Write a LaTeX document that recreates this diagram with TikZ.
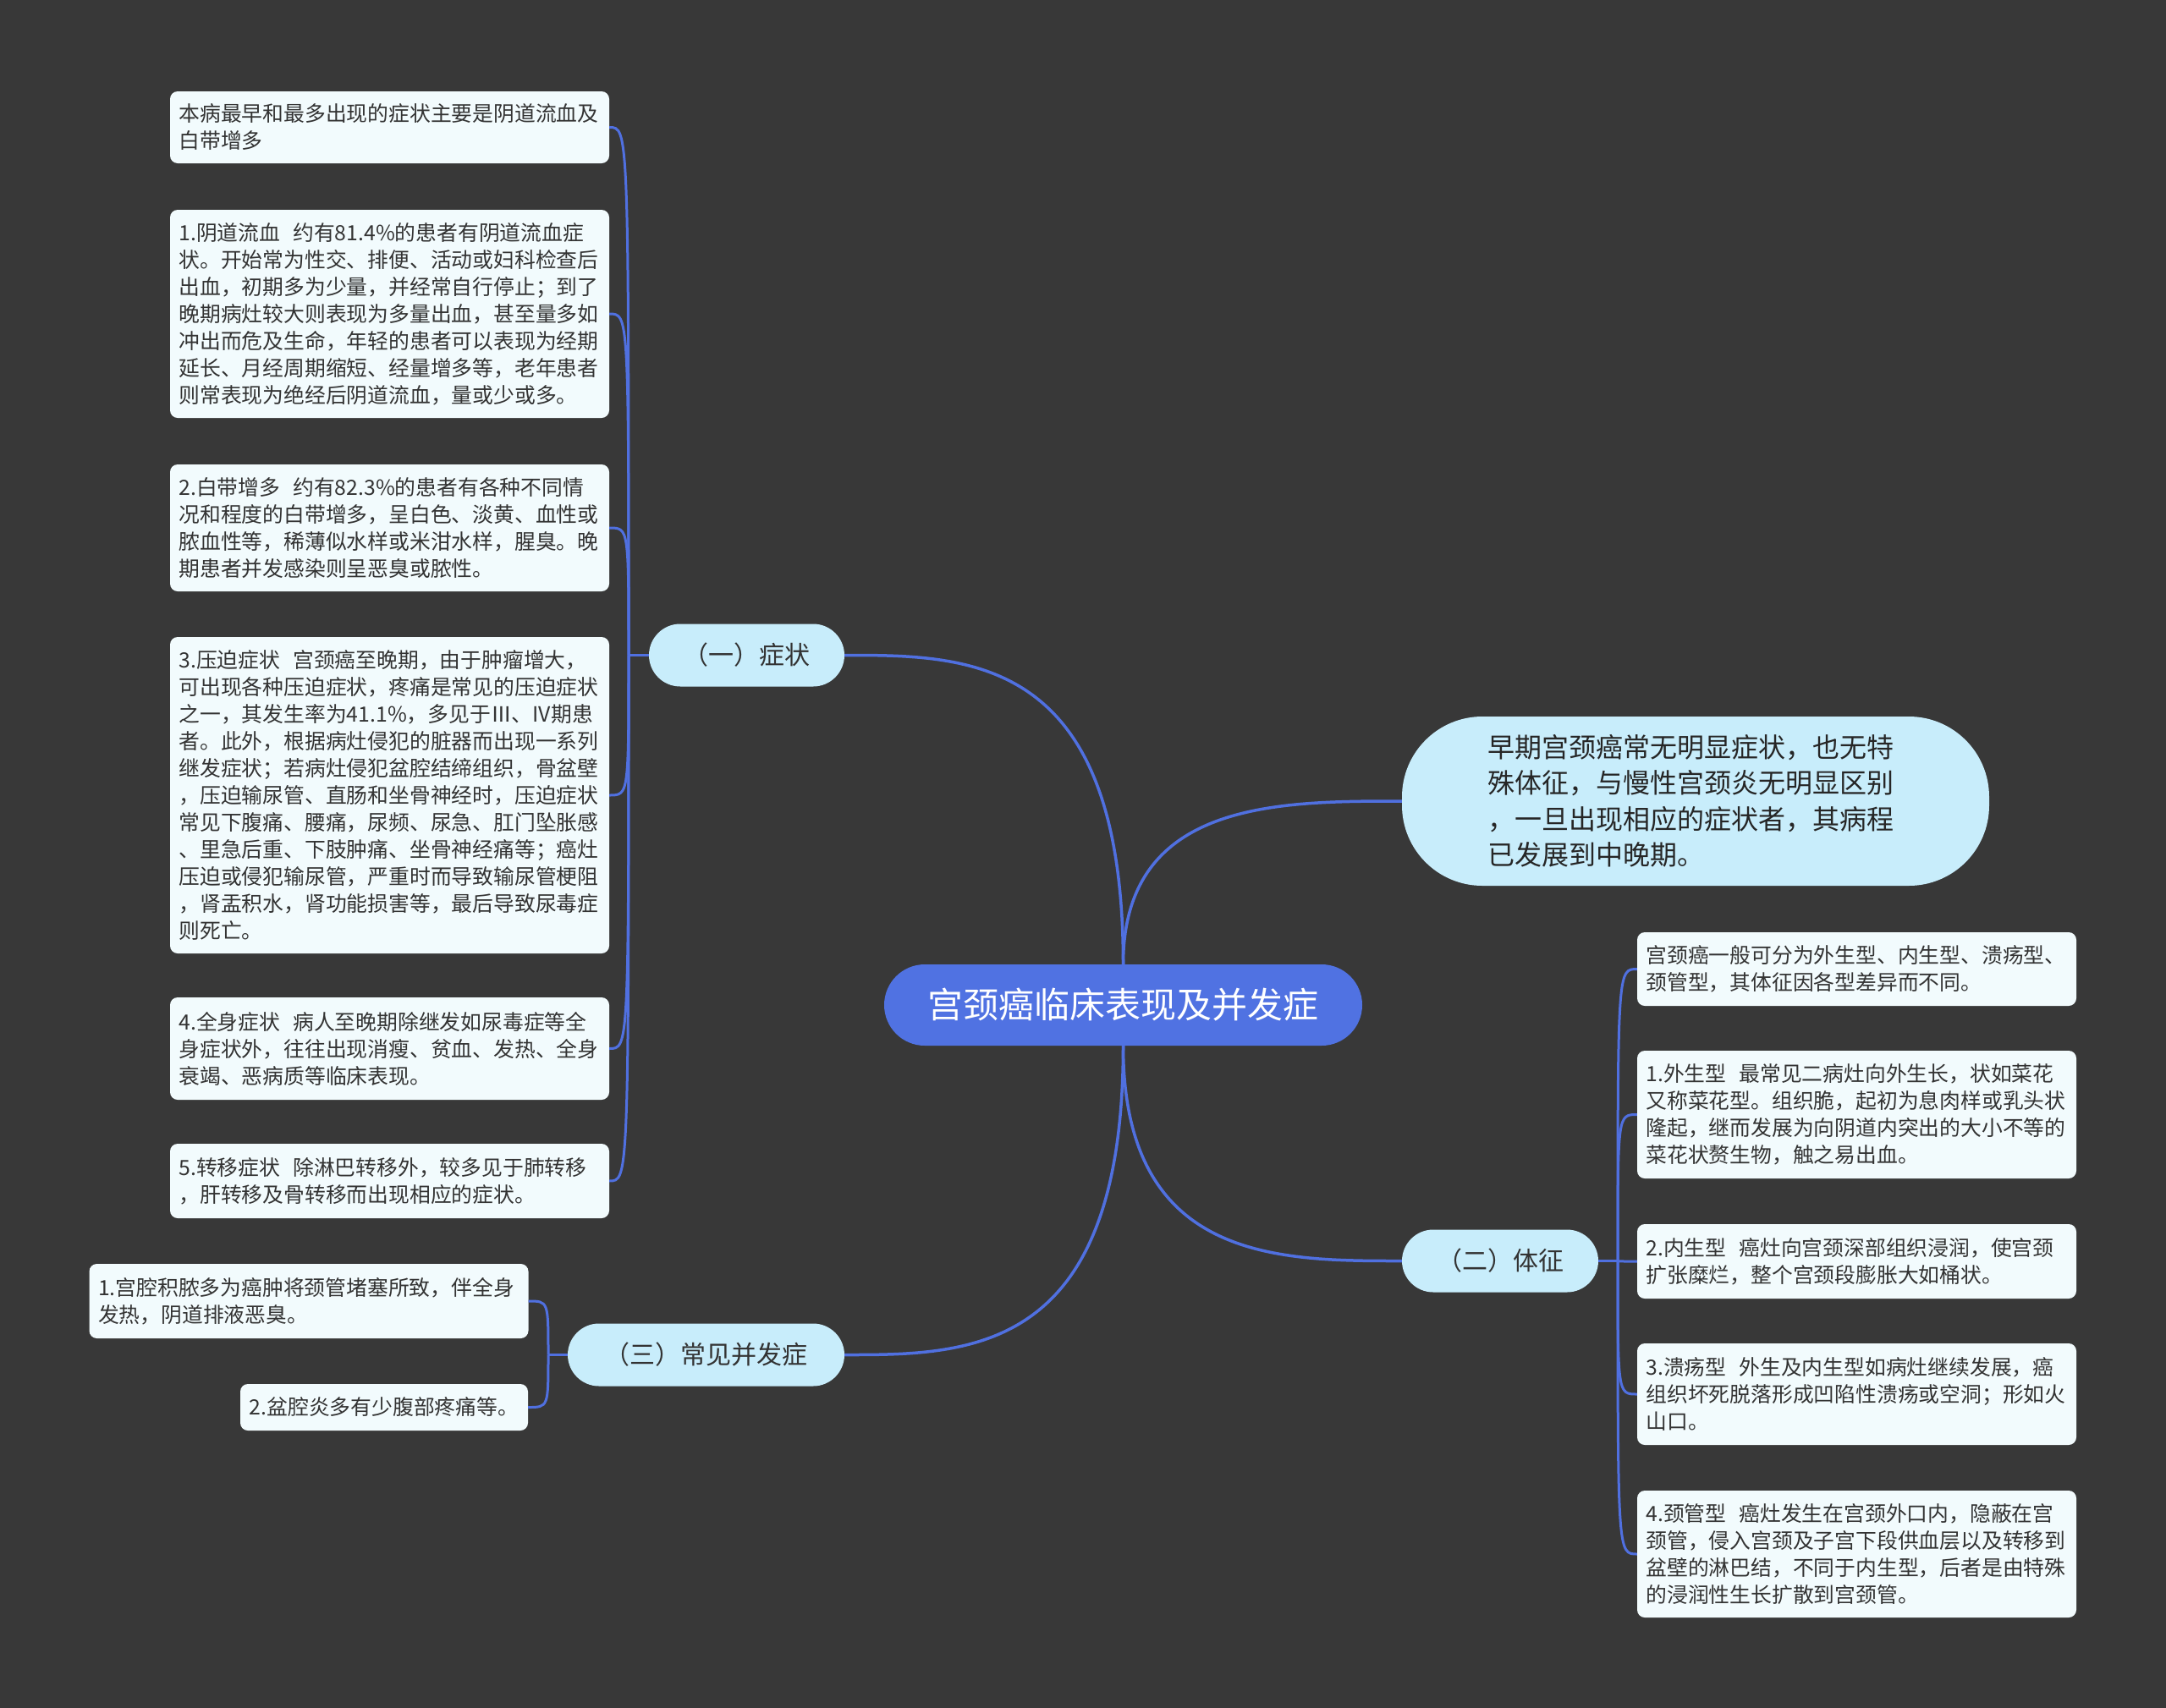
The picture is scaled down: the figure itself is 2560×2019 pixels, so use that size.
\documentclass[tikz,border=0pt]{standalone}
\usepackage{fontspec}
\setmainfont{Noto Sans CJK SC}
\usetikzlibrary{calc}
\definecolor{bgcol}{HTML}{383838}
\definecolor{linkcol}{HTML}{5070E0}
\definecolor{cencol}{HTML}{5072E2}
\definecolor{branchcol}{HTML}{C8EDFB}
\definecolor{leafcol}{HTML}{F2FBFD}
\definecolor{txtcol}{HTML}{333333}
\newcommand{\gap}{\hspace{0.6em}}

\begin{document}
\begin{tikzpicture}[x=1pt,y=-1pt,
  leaf/.style={fill=leafcol,rounded corners=9pt,inner xsep=10.5pt,inner ysep=0pt,text width=498pt,align=left,text=txtcol,font=\fontsize{24.8}{32}\selectfont},
  branch/.style={fill=branchcol,rounded corners=37pt,inner sep=0pt,minimum height=74pt,text=txtcol,font=\fontsize{30}{36}\selectfont},
  link/.style={draw=linkcol,line width=3.5pt},
  twig/.style={draw=linkcol,line width=3pt}]
\path[use as bounding box] (0,0) rectangle (2560,2019);
\fill[bgcol] (0,0) rectangle (2560,2019);

% centre and main branches
\node[fill=cencol,rounded corners=48pt,minimum width=565pt,minimum height=96pt,inner sep=0pt,text=white,font=\fontsize{42}{50}\selectfont] (cen) at (1327.5,1188) {宫颈癌临床表现及并发症};
\node[branch,minimum width=231pt] (b1) at (882.5,774.5) {（一）症状};
\node[branch,minimum width=232pt] (b2) at (1773,1490.5) {（二）体征};
\node[branch,minimum width=327pt] (b3) at (834.5,1601.5) {（三）常见并发症};
\node[fill=branchcol,rounded corners=95pt,minimum width=694pt,minimum height=200pt,inner sep=0pt,text width=492pt,align=left,text=black!85,font=\fontsize{32}{42.5}\selectfont] (early) at (2004,947) {早期宫颈癌常无明显症状，也无特\\殊体征，与慢性宫颈炎无明显区别\\，一旦出现相应的症状者，其病程\\已发展到中晚期。};

% symptoms
\node[leaf,minimum height=85pt] (l1) at (460.5,150.5) {本病最早和最多出现的症状主要是阴道流血及\\白带增多};
\node[leaf,minimum height=246pt] (l2) at (460.5,371) {1.阴道流血\gap 约有81.4\%的患者有阴道流血症\\状。开始常为性交、排便、活动或妇科检查后\\出血，初期多为少量，并经常自行停止；到了\\晚期病灶较大则表现为多量出血，甚至量多如\\冲出而危及生命，年轻的患者可以表现为经期\\延长、月经周期缩短、经量增多等，老年患者\\则常表现为绝经后阴道流血，量或少或多。};
\node[leaf,minimum height=150pt] (l3) at (460.5,624) {2.白带增多\gap 约有82.3\%的患者有各种不同情\\况和程度的白带增多，呈白色、淡黄、血性或\\脓血性等，稀薄似水样或米泔水样，腥臭。晚\\期患者并发感染则呈恶臭或脓性。};
\node[leaf,minimum height=374pt] (l4) at (460.5,940) {3.压迫症状\gap 宫颈癌至晚期，由于肿瘤增大，\\可出现各种压迫症状，疼痛是常见的压迫症状\\之一，其发生率为41.1\%，多见于Ⅲ、IV期患\\者。此外，根据病灶侵犯的脏器而出现一系列\\继发症状；若病灶侵犯盆腔结缔组织，骨盆壁\\，压迫输尿管、直肠和坐骨神经时，压迫症状\\常见下腹痛、腰痛，尿频、尿急、肛门坠胀感\\、里急后重、下肢肿痛、坐骨神经痛等；癌灶\\压迫或侵犯输尿管，严重时而导致输尿管梗阻\\，肾盂积水，肾功能损害等，最后导致尿毒症\\则死亡。};
\node[leaf,minimum height=121pt] (l5) at (460.5,1239.5) {4.全身症状\gap 病人至晚期除继发如尿毒症等全\\身症状外，往往出现消瘦、贫血、发热、全身\\衰竭、恶病质等临床表现。};
\node[leaf,minimum height=88pt] (l6) at (460.5,1396) {5.转移症状\gap 除淋巴转移外，较多见于肺转移\\，肝转移及骨转移而出现相应的症状。};

% signs
\node[leaf,minimum height=87pt] (r0) at (2194.5,1145.5) {宫颈癌一般可分为外生型、内生型、溃疡型、\\颈管型，其体征因各型差异而不同。};
\node[leaf,minimum height=151pt] (r1) at (2194.5,1317.5) {1.外生型\gap 最常见二病灶向外生长，状如菜花\\又称菜花型。组织脆，起初为息肉样或乳头状\\隆起，继而发展为向阴道内突出的大小不等的\\菜花状赘生物，触之易出血。};
\node[leaf,minimum height=88pt] (r2) at (2194.5,1491) {2.内生型\gap 癌灶向宫颈深部组织浸润，使宫颈\\扩张糜烂，整个宫颈段膨胀大如桶状。};
\node[leaf,minimum height=120pt] (r3) at (2194.5,1648) {3.溃疡型\gap 外生及内生型如病灶继续发展，癌\\组织坏死脱落形成凹陷性溃疡或空洞；形如火\\山口。};
\node[leaf,minimum height=150pt] (r4) at (2194.5,1837) {4.颈管型\gap 癌灶发生在宫颈外口内，隐蔽在宫\\颈管，侵入宫颈及子宫下段供血层以及转移到\\盆壁的淋巴结，不同于内生型，后者是由特殊\\的浸润性生长扩散到宫颈管。};

% complications
\node[leaf,minimum height=88pt] (c1) at (365,1538) {1.宫腔积脓多为癌肿将颈管堵塞所致，伴全身\\发热，阴道排液恶臭。};
\node[leaf,text width=,align=center,minimum width=340pt,minimum height=55pt] (c2) at (454,1663.5) {2.盆腔炎多有少腹部疼痛等。};

% main links
\draw[link] (cen.north) .. controls (cen.north |- b1.east) and ($(b1.east)!.45!(cen.north |- b1.east)$) .. (b1.east);
\draw[link] (cen.north) .. controls (cen.north |- early.west) and ($(early.west)!.45!(cen.north |- early.west)$) .. (early.west);
\draw[link] (cen.south) .. controls (cen.south |- b2.west) and ($(b2.west)!.45!(cen.south |- b2.west)$) .. (b2.west);
\draw[link] (cen.south) .. controls (cen.south |- b3.east) and ($(b3.east)!.45!(cen.south |- b3.east)$) .. (b3.east);

% leaf links
\coordinate (j1) at (743,774.5);
\coordinate (j2) at (1912,1490.5);
\coordinate (j3) at (648,1601.5);
\draw[twig] (b1.west) -- (j1);
\foreach \n in {l1,l2,l3,l4,l5,l6}
  \draw[twig] (j1) .. controls (j1 |- \n.east) .. (\n.east);
\draw[twig] (b2.east) -- (j2);
\foreach \n in {r0,r1,r2,r3,r4}
  \draw[twig] (j2) .. controls (j2 |- \n.west) .. (\n.west);
\draw[twig] (b3.west) -- (j3);
\foreach \n in {c1,c2}
  \draw[twig] (j3) .. controls (j3 |- \n.east) .. (\n.east);
\end{tikzpicture}
\end{document}
